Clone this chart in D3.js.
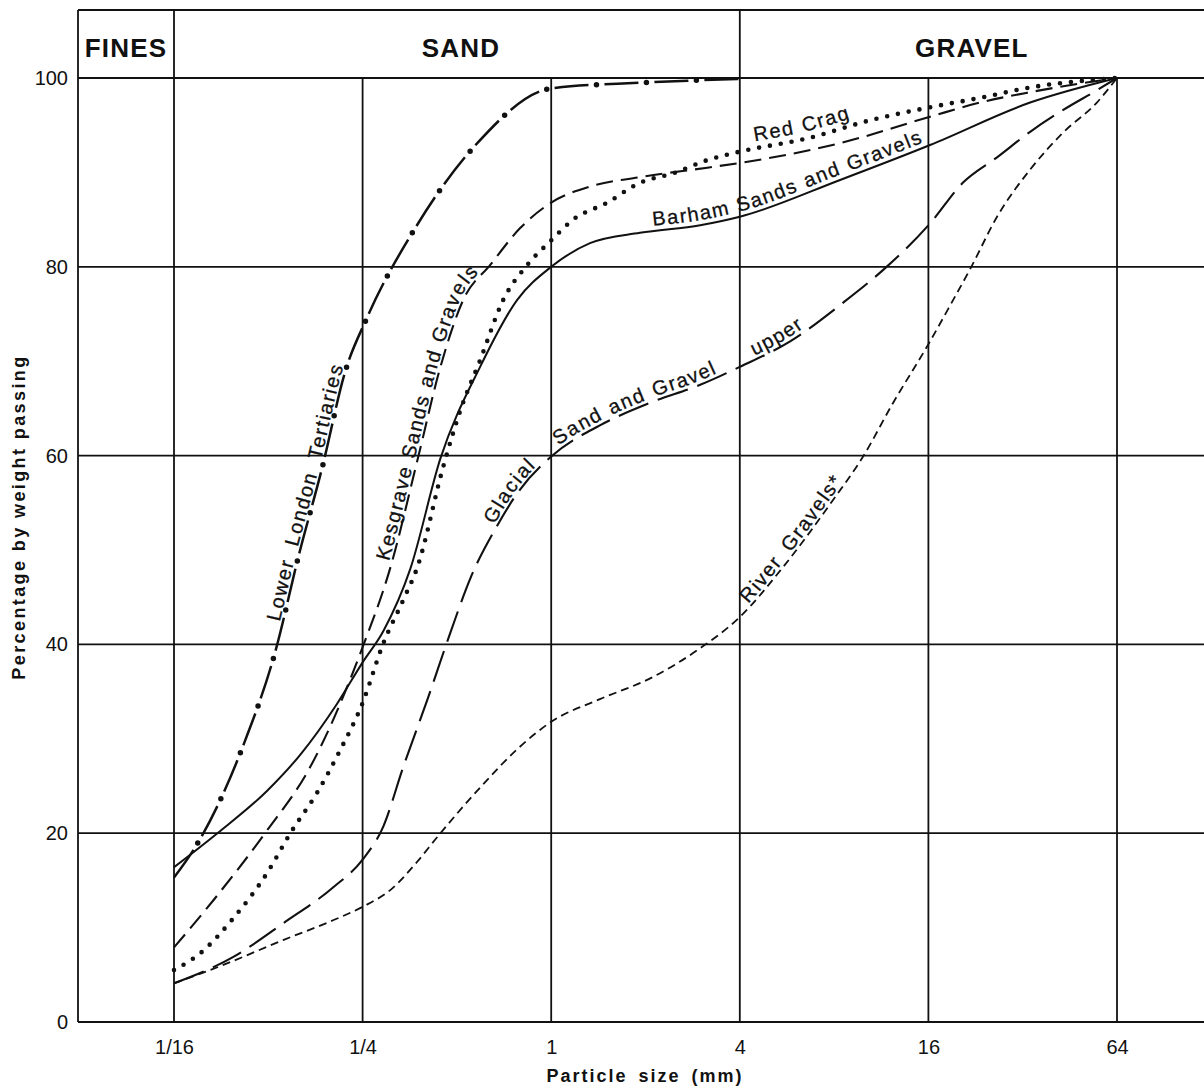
<!DOCTYPE html>
<html>
<head>
<meta charset="utf-8">
<script src="https://cdn.jsdelivr.net/npm/d3@7"></script>
<style>
  body { margin: 0; background: #fff; }
  svg { display: block; font-family: "Liberation Sans", Arial, sans-serif; }
</style>
</head>
<body>
<svg id="chart" width="1204" height="1088"></svg>
<script>
// ---- data (particle size in mm, percentage by weight passing) ----
const sizeTicks = [1/16, 1/4, 1, 4, 16, 64];
const sizeTickLabels = ["1/16", "1/4", "1", "4", "16", "64"];
const pctTicks = [0, 20, 40, 60, 80, 100];
const zoneNames = ["FINES", "SAND", "GRAVEL"];
const zoneBounds = [1/16, 4];

const lltSize = [0.0625, 0.0764, 0.104, 0.132, 0.156, 0.186, 0.220, 0.259, 0.368, 0.581, 1, 1.92, 4];
const lltPct  = [15.3, 19.6, 29.3, 39.4, 49.3, 58.8, 68.9, 74.7, 84.1, 93.1, 98.9, 99.5, 99.9];

const barhamSize = [0.0625, 0.086, 0.124, 0.158, 0.208, 0.25, 0.291, 0.355, 0.443, 0.593, 0.779, 1, 1.33, 1.92, 2.99, 4, 8.36, 16.2, 33.8, 64];
const barhamPct  = [16.4, 20, 24.5, 28.3, 33.8, 38.1, 41.4, 48.0, 59.7, 69.4, 76.5, 80, 82.5, 83.6, 84.4, 85.3, 89.2, 92.9, 97.4, 100];

const redCragSize = [0.0625, 0.0759, 0.0967, 0.124, 0.147, 0.179, 0.212, 0.25, 0.291, 0.337, 0.374, 0.452, 0.513, 0.593, 0.703, 0.839, 1, 1.175, 1.51, 1.92, 2.45, 3.15, 4, 6.56, 10.65, 16.2, 23.4, 33.8, 64];
const redCragPct  = [5.5, 7.3, 11.0, 15.8, 20.0, 24.3, 28.8, 33.8, 40.1, 44.7, 48.2, 58.8, 64.8, 70.1, 76.5, 80.2, 82.8, 85.0, 86.8, 88.9, 89.9, 91.3, 92.2, 93.6, 95.6, 96.9, 97.9, 99.0, 100];

const kesgraveSize = [0.0625, 0.0835, 0.122, 0.170, 0.25, 0.307, 0.374, 0.443, 0.524, 0.639, 0.796, 1, 1.33, 1.92, 3.15, 4, 8.36, 16.2, 23.4, 33.8, 64];
const kesgravePct  = [7.9, 12.9, 20.0, 27.0, 39.7, 48.2, 59.5, 69.4, 76.5, 80.2, 84.1, 86.8, 88.5, 89.5, 90.5, 91.0, 93.1, 95.9, 97.4, 98.5, 100];

const glacialSize = [0.0625, 0.0967, 0.140, 0.202, 0.25, 0.291, 0.337, 0.402, 0.476, 0.552, 0.673, 0.779, 1, 1.43, 2.07, 2.99, 4, 5.79, 8.55, 11.5, 16.2, 20.6, 26.5, 33.8, 43, 55.2, 64];
const glacialPct  = [4.1, 6.9, 10.5, 14.3, 17.2, 20.7, 27.0, 34.1, 41.2, 47.0, 52.6, 56.0, 59.9, 63.2, 65.6, 67.5, 69.4, 72.1, 76.2, 79.7, 84.6, 88.9, 91.6, 94.3, 96.6, 98.7, 100];

const riverSize = [0.0625, 0.086, 0.140, 0.202, 0.25, 0.307, 0.374, 0.433, 0.607, 0.779, 1, 1.43, 2.07, 2.99, 4, 5.5, 7.94, 9.9, 12.3, 16, 19.2, 21.7, 26.5, 33.8, 43, 55.2, 64];
const riverPct  = [4.1, 5.8, 8.7, 10.8, 12.2, 14.0, 17.0, 19.6, 25.2, 28.9, 31.8, 34.2, 36.4, 39.6, 42.9, 48.2, 55.3, 59.9, 65.5, 71.8, 76.5, 79.7, 85.3, 90.3, 94.2, 97.4, 100];

const series = [
  { id: "llt",      size: lltSize,      pct: lltPct,      width: 2.5, dash: "34 16", dots: true },
  { id: "barham",   size: barhamSize,   pct: barhamPct,   width: 2,   dash: null },
  { id: "redcrag",  size: redCragSize,  pct: redCragPct,  width: 4.6, dash: "0 11", cap: "round" },
  { id: "kesgrave", size: kesgraveSize, pct: kesgravePct, width: 2.1, dash: "17 8" },
  { id: "glacial",  size: glacialSize,  pct: glacialPct,  width: 2.1, dash: "32 10" },
  { id: "river",    size: riverSize,    pct: riverPct,    width: 1.8, dash: "8 5" }
];

// curve labels: words laid along a series, starting where the curve reaches `at` mm
const labels = [
  { id: "llt",      text: "Lower London Tertiaries",    at: 0.139, dy: -3, gap: 14 },
  { id: "kesgrave", text: "Kesgrave Sands and Gravels", at: 0.31,  dy: -3, gap: 8 },
  { id: "barham",   text: "Barham Sands and Gravels",   at: 2.12,  dy: -5, gap: 8 },
  { id: "redcrag",  text: "Red Crag",                   at: 4.5,   dy: -7, gap: 9 },
  { id: "glacial",  text: "Glacial",                    at: 0.67,  dy: -3, gap: 8 },
  { id: "glacial",  text: "Sand and Gravel",            at: 1.07,  dy: -4, gap: 8 },
  { id: "glacial",  text: "upper",                      at: 4.5,   dy: -4, gap: 8 },
  { id: "river",    text: "River Gravels*",             at: 4.33,  dy: -3, gap: 12 }
];

// ---- layout ----
const svg = d3.select("#chart");
const frame = { left: 78, top: 10, right: 1240 };

const x = d3.scaleLog().base(2).domain([1/16, 64]).range([174, 1117]);
const y = d3.scaleLinear().domain([0, 100]).range([1022, 78]);

const ink = "#111";

// grid
const grid = svg.append("g").attr("stroke", ink).attr("stroke-width", 1.8);
grid.selectAll("line.h").data(pctTicks).enter().append("line")
  .attr("x1", frame.left).attr("x2", frame.right)
  .attr("y1", d => y(d)).attr("y2", d => y(d));
grid.selectAll("line.v").data(sizeTicks).enter().append("line")
  .attr("x1", d => x(d)).attr("x2", d => x(d))
  .attr("y1", d => zoneBounds.includes(d) ? frame.top : y(100))
  .attr("y2", y(0));
grid.append("line").attr("x1", frame.left).attr("x2", frame.left).attr("y1", frame.top).attr("y2", y(0));
grid.append("line").attr("x1", frame.left).attr("x2", frame.right).attr("y1", frame.top).attr("y2", frame.top);

// header zones
const zoneEdges = [frame.left, x(zoneBounds[0]), x(zoneBounds[1]), 1204];
svg.append("g").selectAll("text").data(zoneNames).enter().append("text")
  .attr("x", (d, i) => (zoneEdges[i] + zoneEdges[i + 1]) / 2 + (i === 1 ? 4 : 0))
  .attr("y", 57)
  .attr("text-anchor", "middle")
  .attr("font-size", 26).attr("font-weight", "bold").attr("letter-spacing", 1.2)
  .attr("fill", ink)
  .text(d => d);

// axes
const yAxis = svg.append("g").attr("transform", `translate(${frame.left},0)`)
  .call(d3.axisLeft(y).tickValues(pctTicks).tickSize(0).tickPadding(10));
const xAxis = svg.append("g").attr("transform", `translate(0,${y(0)})`)
  .call(d3.axisBottom(x).tickValues(sizeTicks).tickFormat((d, i) => sizeTickLabels[i]).tickSize(0).tickPadding(18));
[yAxis, xAxis].forEach(a => {
  a.select(".domain").remove();
  a.selectAll("text").attr("font-size", 20).attr("fill", ink)
    .attr("font-family", "'Liberation Sans', Arial, sans-serif");
});

svg.append("text")
  .attr("x", 645).attr("y", 1082)
  .attr("text-anchor", "middle")
  .attr("font-size", 18).attr("font-weight", "bold")
  .attr("letter-spacing", 2).attr("word-spacing", 4)
  .attr("fill", ink)
  .text("Particle size (mm)");

svg.append("text")
  .attr("transform", "translate(25,517) rotate(-90)")
  .attr("text-anchor", "middle")
  .attr("font-size", 18).attr("font-weight", "bold")
  .attr("letter-spacing", 2.4)
  .attr("fill", ink)
  .text("Percentage by weight passing");

// curves
const line = d3.line().x(d => x(d[0])).y(d => y(d[1])).curve(d3.curveMonotoneX);
const curves = svg.append("g").attr("fill", "none").attr("stroke", ink);

series.forEach(s => {
  const pts = s.size.map((v, i) => [v, s.pct[i]]);
  curves.append("path")
    .attr("id", "curve-" + s.id)
    .attr("d", line(pts))
    .attr("stroke-width", s.width)
    .attr("stroke-dasharray", s.dash)
    .attr("stroke-linecap", s.cap || "butt");
  if (s.dots) {
    curves.append("path")
      .attr("d", line(pts))
      .attr("stroke-width", 5.5)
      .attr("stroke-linecap", "round")
      .attr("stroke-dasharray", "0 50")
      .attr("stroke-dashoffset", 8);
  }
});

// label placement along paths
function lengthAtX(node, px) {
  let lo = 0, hi = node.getTotalLength();
  for (let i = 0; i < 40; i++) {
    const mid = (lo + hi) / 2;
    if (node.getPointAtLength(mid).x < px) lo = mid; else hi = mid;
  }
  return lo;
}

const labelG = svg.append("g")
  .attr("fill", ink).attr("stroke", ink).attr("stroke-width", 0.3)
  .attr("font-size", 20).attr("letter-spacing", 1.6);
labels.forEach(l => {
  const node = document.getElementById("curve-" + l.id);
  let off = lengthAtX(node, x(l.at));
  l.text.split(" ").forEach(word => {
    const t = labelG.append("text").attr("dy", l.dy);
    t.append("textPath")
      .attr("href", "#curve-" + l.id)
      .attr("startOffset", off)
      .text(word);
    off += t.node().getComputedTextLength() + l.gap;
  });
});
</script>
</body>
</html>
